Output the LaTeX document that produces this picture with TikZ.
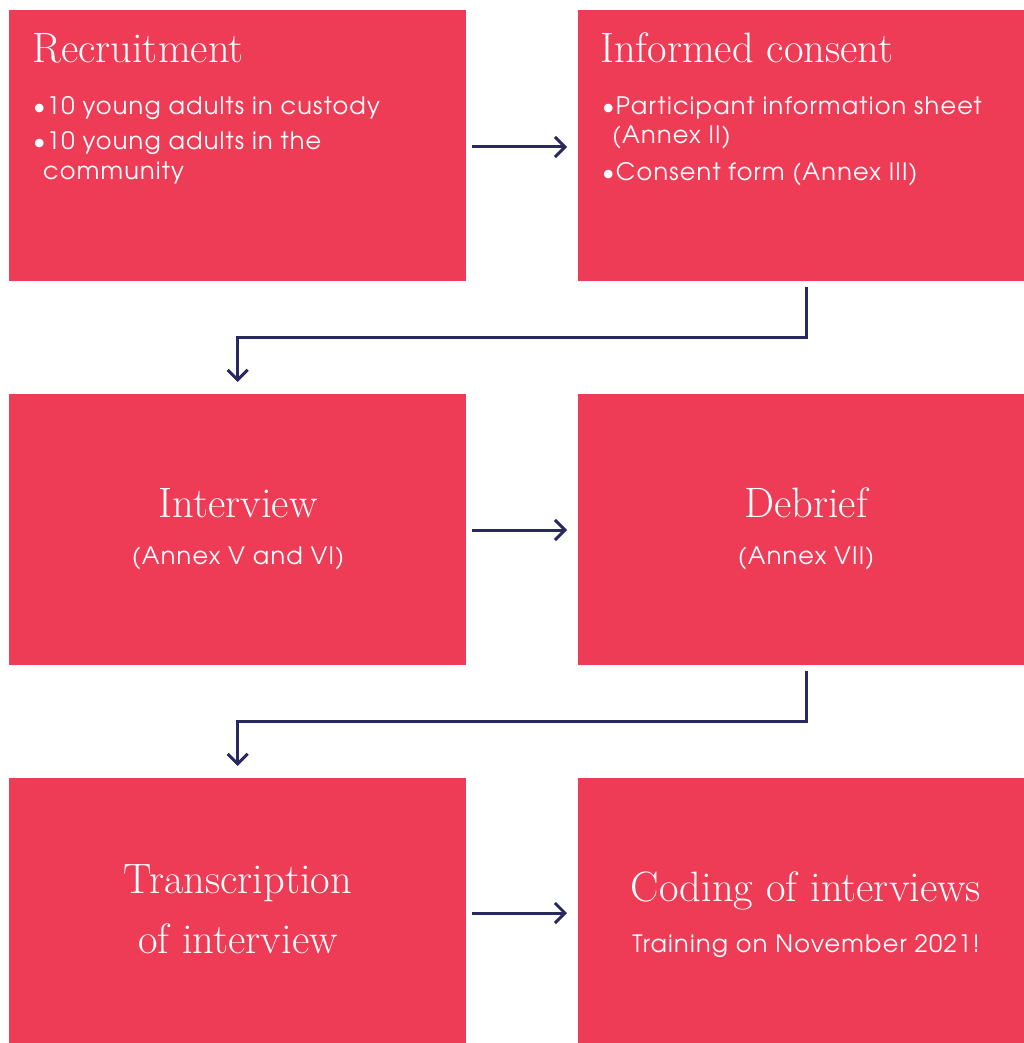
\documentclass[tikz,border=0pt]{standalone}
\usepackage{fontspec}
\usepackage{tikz}
\usetikzlibrary{positioning, arrows.meta, calc}

\newfontfamily\bodyfont[LetterSpace=5]{texgyreadventor-regular.otf}
\definecolor{boxred}{HTML}{EF3C56}
\definecolor{linknavy}{HTML}{29285F}

\begin{document}
\begin{tikzpicture}[
    x=1pt, y=-1pt,
    >={Straight Barb[length=10pt, width=20pt, line width=3pt]},
    stepbox/.style={rectangle, fill=boxred, draw=none, inner sep=0pt,
        minimum width=457pt, minimum height=271pt, anchor=north west},
    title/.style={text=white, inner sep=0pt, font=\fontsize{42.5}{48}\selectfont},
    body/.style={text=white, inner sep=0pt, font=\bodyfont\fontsize{24}{28}\selectfont},
    link/.style={->, draw=linknavy, line width=3pt, shorten <=6pt, shorten >=11pt}
]
    \useasboundingbox (0,0) rectangle (1024,1043);
    \clip (0,0) rectangle (1024,1043);

    % Boxes, two per row
    \node[stepbox] (recruit)  at (9,10)   {};
    \node[stepbox] (consent)  at (578,10) {};
    \node[stepbox] (interv)   at (9,394)  {};
    \node[stepbox] (debrief)  at (578,394) {};
    \node[stepbox] (transc)   at (9,778)  {};
    \node[stepbox] (coding)   at (578,778) {};

    % Recruitment
    \node[title, anchor=base west] (recruitT) at (32,63) {Recruitment};
    \node[body, anchor=base west] (recruitA) at (33,115) {\textbullet10 young adults in custody};
    \node[body, anchor=base west] (recruitB) at (33,150) {\textbullet10 young adults in the};
    \node[body, anchor=base west] (recruitC) at (43,179) {community};

    % Informed consent
    \node[title, anchor=base west] (consentT) at (600,63) {Informed consent};
    \node[body, anchor=base west] (consentA) at (602,115) {\textbullet Participant information sheet};
    \node[body, anchor=base west] (consentB) at (612,144) {(Annex II)};
    \node[body, anchor=base west] (consentC) at (602,180) {\textbullet Consent form (Annex III)};

    % Interview and debrief
    \node[title, anchor=base] (intervT) at (238,517) {Interview};
    \node[body, anchor=base] (intervA) at (238,564) {(Annex V and VI)};
    \node[title, anchor=base] (debriefT) at (806,517) {Debrief};
    \node[body, anchor=base] (debriefA) at (806,564) {(Annex VII)};

    % Transcription and coding
    \node[title, anchor=base] (transcT) at (238,893) {Transcription};
    \node[title, anchor=base] (transcB) at (238,953) {of interview};
    \node[title, anchor=base] (codingT) at (806,901) {Coding of interviews};
    \node[body, anchor=base] (codingA) at (806,952) {Training on November 2021!};

    % Arrows along each row
    \draw[link] (recruit.east |- 0,147) -- (consent.west |- 0,147);
    \draw[link] (interv.east |- 0,530)  -- (debrief.west |- 0,530);
    \draw[link] (transc.east |- 0,913)  -- (coding.west |- 0,913);

    % Elbows back to the next row
    \draw[link, shorten >=12pt] (consent.south) |- ($(consent.south)!.5!(interv.north)$) -| (interv.north);
    \draw[link, shorten >=12pt] (debrief.south) |- ($(debrief.south)!.5!(transc.north)$) -| (transc.north);

\end{tikzpicture}
\end{document}
